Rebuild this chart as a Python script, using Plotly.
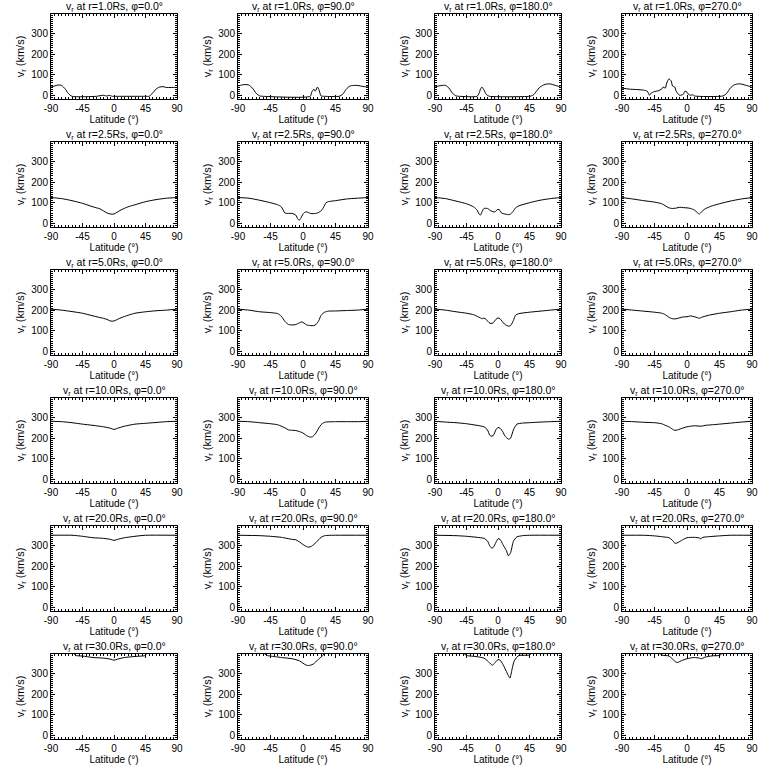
import plotly.graph_objects as go

# ---------------- data ----------------
radii = ["1.0", "2.5", "5.0", "10.0", "20.0", "30.0"]
phis = ["0.0", "90.0", "180.0", "270.0"]
x_ticks = [-90, -45, 0, 45, 90]
y_ticks = [0, 100, 200, 300]

# r = 1.0 Rs
lat_r1_p0 = [-90, -85, -80, -75, -70, -65, -60, -25, -20, -15, -10, -7, -5, -2, 0, 45, 50, 55, 60, 65, 70, 75, 80, 85, 90]
v_r1_p0 = [40, 45, 50, 48, 32, 8, -5, -5, -2, 0, -4, 0, -2, -5, -5, -5, -5, 10, 30, 40, 42, 38, 38, 38, 38]
lat_r1_p1 = [-90, -85, -80, -75, -70, -65, -60, -55, 10, 12, 15, 17, 20, 22, 25, 30, 50, 55, 60, 65, 70, 75, 80, 85, 90]
v_r1_p1 = [45, 50, 52, 50, 35, 10, -3, -5, -5, 15, 30, 20, 40, 28, -3, -5, -5, 5, 30, 45, 48, 48, 45, 42, 40]
lat_r1_p2 = [-90, -85, -80, -75, -70, -65, -60, -55, -30, -27, -25, -23, -20, -17, -15, -12, 45, 50, 55, 60, 65, 70, 75, 80, 85, 90]
v_r1_p2 = [40, 45, 48, 48, 35, 10, -3, -5, -5, 10, 30, 40, 25, 5, 0, -5, -5, 0, 20, 40, 50, 55, 55, 50, 45, 38]
lat_r1_p3 = [-90, -80, -70, -60, -55, -52, -50, -45, -40, -35, -33, -30, -28, -25, -22, -20, -17, -15, -12, -10, -5, -3, 0, 2, 5, 8, 10, 50, 55, 60, 65, 70, 75, 80, 85, 90]
v_r1_p3 = [35, 30, 28, 25, 20, 0, 10, 18, 22, 30, 40, 35, 60, 80, 70, 45, 40, 20, 5, 0, 5, 20, 15, 5, 0, 3, -3, -3, 10, 35, 50, 55, 55, 50, 45, 38]

# r = 2.5 Rs
lat_r2_p0 = [-90, -75, -60, -45, -30, -20, -15, -10, -5, 0, 5, 10, 20, 30, 45, 60, 75, 90]
v_r2_p0 = [125, 120, 110, 97, 80, 70, 60, 50, 45, 45, 55, 65, 80, 90, 105, 115, 122, 125]
lat_r2_p1 = [-90, -75, -60, -45, -35, -30, -25, -20, -15, -10, -7, -5, -3, 0, 3, 5, 8, 10, 15, 20, 25, 28, 32, 35, 45, 60, 75, 90]
v_r2_p1 = [125, 122, 112, 100, 90, 80, 50, 48, 48, 40, 20, 15, 25, 45, 55, 55, 52, 48, 47, 50, 60, 75, 100, 105, 110, 118, 122, 125]
lat_r2_p2 = [-90, -75, -60, -45, -35, -30, -27, -25, -23, -20, -15, -10, -5, 0, 3, 5, 10, 15, 18, 22, 25, 30, 45, 60, 75, 90]
v_r2_p2 = [125, 120, 108, 95, 80, 65, 45, 40, 55, 72, 72, 60, 55, 68, 62, 50, 45, 42, 45, 60, 75, 85, 100, 112, 120, 125]
lat_r2_p3 = [-90, -75, -60, -45, -35, -30, -25, -20, -15, -10, -5, 0, 5, 10, 15, 17, 20, 25, 35, 45, 60, 75, 90]
v_r2_p3 = [125, 118, 110, 103, 95, 85, 75, 72, 74, 78, 76, 75, 72, 65, 50, 45, 55, 70, 85, 95, 108, 118, 125]

# r = 5.0 Rs
lat_r5_p0 = [-90, -75, -60, -45, -30, -15, -10, -5, 0, 5, 10, 20, 30, 45, 60, 75, 90]
v_r5_p0 = [205, 200, 193, 185, 172, 160, 155, 147, 147, 155, 163, 175, 185, 192, 197, 200, 205]
lat_r5_p1 = [-90, -75, -60, -45, -35, -30, -25, -20, -15, -10, -5, -2, 0, 3, 5, 10, 15, 18, 22, 25, 30, 35, 45, 60, 75, 90]
v_r5_p1 = [205, 200, 192, 188, 183, 170, 145, 130, 128, 130, 138, 143, 140, 133, 128, 125, 125, 130, 150, 175, 190, 195, 196, 198, 200, 205]
lat_r5_p2 = [-90, -75, -60, -45, -35, -30, -25, -22, -20, -17, -13, -10, -7, -3, 0, 3, 6, 10, 15, 18, 22, 25, 30, 45, 60, 75, 90]
v_r5_p2 = [205, 200, 192, 185, 178, 170, 162, 158, 162, 155, 140, 135, 138, 155, 162, 158, 145, 130, 122, 125, 150, 175, 183, 190, 195, 200, 205]
lat_r5_p3 = [-90, -75, -60, -45, -35, -30, -25, -20, -15, -10, -5, 0, 5, 10, 15, 17, 20, 30, 45, 60, 75, 90]
v_r5_p3 = [205, 200, 195, 190, 185, 178, 165, 158, 158, 163, 167, 168, 172, 168, 163, 160, 165, 175, 185, 192, 200, 205]

# r = 10.0 Rs
lat_r10_p0 = [-90, -75, -60, -45, -30, -15, -5, 0, 5, 15, 30, 45, 60, 75, 90]
v_r10_p0 = [282, 280, 275, 268, 262, 255, 248, 242, 248, 258, 268, 272, 276, 280, 282]
lat_r10_p1 = [-90, -75, -60, -45, -35, -30, -25, -20, -15, -10, -5, 0, 5, 10, 13, 17, 22, 25, 30, 45, 60, 75, 90]
v_r10_p1 = [282, 280, 275, 270, 265, 258, 250, 240, 238, 237, 232, 225, 212, 205, 207, 220, 250, 265, 277, 280, 280, 280, 282]
lat_r10_p2 = [-90, -75, -60, -45, -30, -20, -15, -12, -10, -7, -3, 0, 3, 7, 10, 15, 18, 22, 27, 35, 45, 60, 75, 90]
v_r10_p2 = [282, 278, 275, 270, 262, 255, 240, 215, 210, 212, 240, 252, 248, 230, 210, 195, 200, 240, 268, 273, 275, 278, 280, 282]
lat_r10_p3 = [-90, -75, -60, -45, -35, -30, -25, -20, -17, -13, -5, 0, 10, 20, 25, 35, 45, 60, 75, 90]
v_r10_p3 = [282, 280, 277, 275, 270, 262, 255, 243, 238, 240, 250, 255, 260, 258, 262, 265, 268, 273, 278, 282]

# r = 20.0 Rs
lat_r20_p0 = [-90, -60, -45, -30, -15, -5, 0, 5, 15, 30, 45, 90]
v_r20_p0 = [350, 350, 345, 338, 335, 330, 325, 330, 338, 345, 350, 350]
lat_r20_p1 = [-90, -60, -45, -30, -15, -10, -5, 0, 5, 8, 12, 18, 25, 30, 45, 90]
v_r20_p1 = [350, 348, 345, 340, 330, 328, 318, 305, 295, 292, 297, 315, 340, 348, 350, 350]
lat_r20_p2 = [-90, -60, -45, -30, -20, -15, -12, -9, -7, -3, 0, 3, 7, 12, 15, 18, 22, 27, 35, 45, 90]
v_r20_p2 = [350, 348, 345, 340, 335, 322, 300, 288, 290, 315, 333, 330, 305, 275, 250, 265, 320, 342, 348, 350, 350]
lat_r20_p3 = [-90, -60, -45, -35, -25, -20, -17, -14, -10, -5, 0, 10, 17, 19, 22, 30, 45, 60, 90]
v_r20_p3 = [350, 350, 347, 343, 338, 325, 312, 312, 320, 330, 338, 340, 337, 333, 340, 343, 347, 350, 350]

# r = 30.0 Rs
lat_r30_p0 = [-90, -58, -55, -45, -30, -15, -5, 0, 5, 15, 30, 45, 47, 90]
v_r30_p0 = [400, 400, 388, 385, 378, 375, 370, 365, 370, 378, 383, 388, 400, 400]
lat_r30_p1 = [-90, -55, -50, -45, -30, -15, -5, 0, 5, 10, 15, 20, 25, 28, 30, 90]
v_r30_p1 = [400, 400, 388, 385, 378, 372, 362, 350, 340, 340, 348, 365, 380, 390, 400, 400]
lat_r30_p2 = [-90, -50, -45, -30, -20, -15, -10, -8, -5, 0, 3, 7, 12, 17, 20, 23, 27, 30, 45, 48, 90]
v_r30_p2 = [400, 400, 388, 382, 375, 362, 345, 340, 350, 368, 365, 345, 310, 278, 320, 360, 380, 388, 390, 400, 400]
lat_r30_p3 = [-90, -38, -35, -25, -20, -15, -12, -8, 0, 10, 17, 20, 25, 35, 45, 50, 90]
v_r30_p3 = [400, 400, 390, 385, 370, 355, 355, 362, 372, 378, 375, 372, 380, 386, 388, 400, 400]

panels = [
    [(lat_r1_p0, v_r1_p0), (lat_r1_p1, v_r1_p1), (lat_r1_p2, v_r1_p2), (lat_r1_p3, v_r1_p3)],
    [(lat_r2_p0, v_r2_p0), (lat_r2_p1, v_r2_p1), (lat_r2_p2, v_r2_p2), (lat_r2_p3, v_r2_p3)],
    [(lat_r5_p0, v_r5_p0), (lat_r5_p1, v_r5_p1), (lat_r5_p2, v_r5_p2), (lat_r5_p3, v_r5_p3)],
    [(lat_r10_p0, v_r10_p0), (lat_r10_p1, v_r10_p1), (lat_r10_p2, v_r10_p2), (lat_r10_p3, v_r10_p3)],
    [(lat_r20_p0, v_r20_p0), (lat_r20_p1, v_r20_p1), (lat_r20_p2, v_r20_p2), (lat_r20_p3, v_r20_p3)],
    [(lat_r30_p0, v_r30_p0), (lat_r30_p1, v_r30_p1), (lat_r30_p2, v_r30_p2), (lat_r30_p3, v_r30_p3)],
]

# ---------------- layout ----------------
W = H = 768
col_x = [(51, 177), (238, 368), (435, 561), (622, 752)]
FONT = "Liberation Sans, Arial, sans-serif"

fig = go.Figure()
annotations = []
layout_axes = {}

for r in range(6):
    top = 14 + 128 * r
    bot = 99 + 128 * r
    for c in range(4):
        idx = r * 4 + c + 1
        xa = "x" if idx == 1 else f"x{idx}"
        ya = "y" if idx == 1 else f"y{idx}"
        lat, vel = panels[r][c]
        fig.add_trace(go.Scatter(x=lat, y=vel, mode="lines",
                                 line=dict(color="black", width=1, shape="spline", smoothing=0.6),
                                 xaxis=xa, yaxis=ya, showlegend=False,
                                 hoverinfo="skip"))
        x0, x1 = col_x[c]
        common = dict(showgrid=False, zeroline=False, showline=True, linecolor="black",
                      linewidth=1, mirror="allticks", ticks="inside", ticklen=4,
                      tickcolor="black", tickwidth=1, automargin=False,
                      tickfont=dict(family=FONT, size=10, color="black"))
        layout_axes[("xaxis" if idx == 1 else f"xaxis{idx}")] = dict(
            domain=[x0 / W, x1 / W], anchor=ya, range=[-90, 90],
            tickmode="array", tickvals=x_ticks, ticktext=[str(t) for t in x_ticks],
            minor=dict(dtick=5, tick0=0, ticks="inside", ticklen=2, tickcolor="black", showgrid=False),
            title=dict(text="Latitude (°)", font=dict(family=FONT, size=10, color="black"), standoff=0),
            **common)
        layout_axes[("yaxis" if idx == 1 else f"yaxis{idx}")] = dict(
            domain=[1 - bot / H, 1 - top / H], anchor=xa, range=[-18, 395],
            tickmode="array", tickvals=y_ticks, ticktext=[str(t) for t in y_ticks],
            minor=dict(dtick=10, tick0=0, ticks="inside", ticklen=2, tickcolor="black", showgrid=False),
            title=dict(text="v<sub>r</sub> (km/s)", font=dict(family=FONT, size=11, color="black"), standoff=4),
            **common)
        annotations.append(dict(
            text=f"v<sub>r</sub> at r={radii[r]}Rs, φ={phis[c]}°",
            x=(x0 + x1) / 2 / W, y=1 - (top - 7) / H, xref="paper", yref="paper",
            xanchor="center", yanchor="middle", showarrow=False,
            font=dict(family=FONT, size=10.5, color="black")))

fig.update_layout(
    width=W, height=H, margin=dict(l=0, r=0, t=0, b=0, autoexpand=False),
    paper_bgcolor="white", plot_bgcolor="white",
    annotations=annotations, **layout_axes)

fig.write_html("out.html",
               config={"displayModeBar": False},
               post_script="document.body.style.margin='0px';document.body.style.padding='0px';")
